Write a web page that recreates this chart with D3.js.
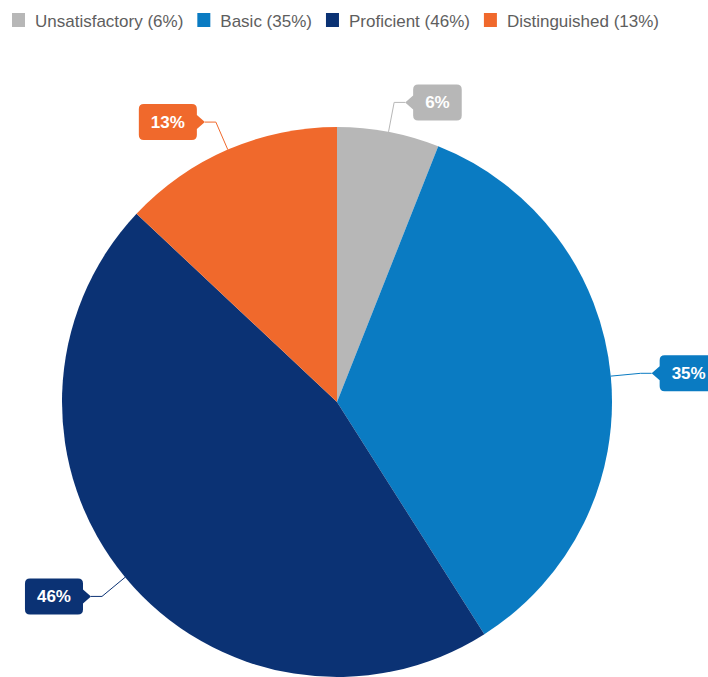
<!DOCTYPE html>
<html>
<head>
<meta charset="utf-8">
<script src="https://cdn.jsdelivr.net/npm/d3@7"></script>
<style>
  html, body { margin: 0; padding: 0; background: #fff; }
  svg { display: block; font-family: "Liberation Sans", Arial, Helvetica, sans-serif; }
</style>
</head>
<body>
<svg id="chart" width="708" height="677"></svg>
<script>
// Rating distribution
const categories = ["Unsatisfactory", "Basic", "Proficient", "Distinguished"];
const values = [6, 35, 46, 13];
const colors = ["#b7b7b7", "#0a7bc2", "#0b3274", "#f0692c"];

const W = 708, H = 677;
const cx = 337, cy = 402, radius = 275;

const svg = d3.select("#chart");

// ---- legend ----
const legend = svg.append("g").attr("class", "legend");
let lx = 12;
categories.forEach((c, i) => {
  const g = legend.append("g");
  g.append("rect")
    .attr("x", lx).attr("y", 13)
    .attr("width", 13).attr("height", 14)
    .attr("fill", colors[i]);
  const t = g.append("text")
    .attr("x", lx + 23).attr("y", 27)
    .attr("font-size", 17)
    .attr("fill", "#5e5e5e")
    .text(`${c} (${values[i]}%)`);
  lx += 23 + t.node().getComputedTextLength() + 14;
});

// ---- pie ----
const pie = d3.pie().sort(null).value(d => d.value);
const arcs = pie(categories.map((c, i) => ({ name: c, value: values[i], color: colors[i] })));
const arc = d3.arc().innerRadius(0).outerRadius(radius);

const plot = svg.append("g").attr("transform", `translate(${cx},${cy})`);
plot.selectAll("path.slice")
  .data(arcs)
  .join("path")
  .attr("class", "slice")
  .attr("d", arc)
  .attr("fill", d => d.data.color);

// ---- callout labels ----
const elbowR = radius + 30;   // radial segment length
const stub = 11;              // horizontal segment to pointer tip
const notchDepth = 8;         // pointer depth
const notchHalf = 7;          // pointer half-height
const padX = 12, boxH = 36, cr = 5;

const labels = svg.append("g").attr("class", "labels");

arcs.forEach(d => {
  const mid = (d.startAngle + d.endAngle) / 2;
  const sx = Math.sin(mid), sy = -Math.cos(mid);
  const p0 = [cx + radius * sx, cy + radius * sy];
  const p1 = [cx + elbowR * sx, cy + elbowR * sy];
  const right = sx >= 0;
  const dir = right ? 1 : -1;
  const tip = [p1[0] + dir * stub, p1[1]];

  labels.append("path")
    .attr("d", `M${p0[0]},${p0[1]}L${p1[0]},${p1[1]}L${tip[0]},${tip[1]}`)
    .attr("fill", "none")
    .attr("stroke", d.data.color)
    .attr("stroke-width", 1);

  const g = labels.append("g");
  const shape = g.append("path").attr("fill", d.data.color);
  const text = g.append("text")
    .attr("font-size", 17)
    .attr("font-weight", "bold")
    .attr("fill", "#fff")
    .attr("text-anchor", "middle")
    .attr("dy", "0.35em")
    .text(`${d.data.value}%`);
  const tw = text.node().getComputedTextLength();
  const bw = tw + 2 * padX;
  const y0 = tip[1] - boxH / 2, y1 = tip[1] + boxH / 2;
  let x0, x1, path;
  if (right) {
    x0 = tip[0] + notchDepth; x1 = x0 + bw;
    path = `M${x0 + cr},${y0}H${x1 - cr}Q${x1},${y0} ${x1},${y0 + cr}` +
      `V${y1 - cr}Q${x1},${y1} ${x1 - cr},${y1}H${x0 + cr}Q${x0},${y1} ${x0},${y1 - cr}` +
      `V${tip[1] + notchHalf}L${tip[0]},${tip[1]}L${x0},${tip[1] - notchHalf}` +
      `V${y0 + cr}Q${x0},${y0} ${x0 + cr},${y0}Z`;
  } else {
    x1 = tip[0] - notchDepth; x0 = x1 - bw;
    path = `M${x0 + cr},${y0}H${x1 - cr}Q${x1},${y0} ${x1},${y0 + cr}` +
      `V${tip[1] - notchHalf}L${tip[0]},${tip[1]}L${x1},${tip[1] + notchHalf}` +
      `V${y1 - cr}Q${x1},${y1} ${x1 - cr},${y1}H${x0 + cr}Q${x0},${y1} ${x0},${y1 - cr}` +
      `V${y0 + cr}Q${x0},${y0} ${x0 + cr},${y0}Z`;
  }
  shape.attr("d", path);
  text.attr("x", (x0 + x1) / 2).attr("y", tip[1]);
});
</script>
</body>
</html>
